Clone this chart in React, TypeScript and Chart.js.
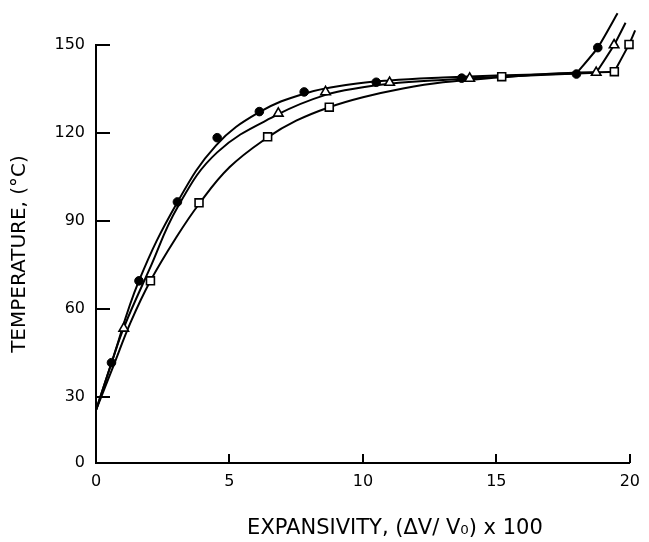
import React, { useEffect, useRef } from 'react';
import { Chart, registerables, LinearScale } from 'chart.js';

// ---- axes ----
const xTickValues = [0, 5, 10, 15, 20];
const yTickValues = [0, 30, 60, 90, 120, 150];
const yTitle = 'TEMPERATURE, (°C)';
const xTitle = 'EXPANSIVITY, (ΔV/ V₀) x 100';

// ---- measured points ----
const circleX = [0.58, 1.61, 3.05, 4.54, 6.12, 7.8, 10.5, 13.7, 18.0, 18.8, 19.54];
const circleY = [41.7, 69.6, 96.5, 118.4, 127.3, 134.0, 137.3, 138.7, 140.1, 149.1, 160.8];
const triangleX = [1.04, 6.83, 8.6, 11.0, 14.0, 18.74, 19.41, 19.75];
const triangleY = [53.4, 126.7, 134.0, 137.2, 138.6, 140.6, 150.0, 156.5];
const squareX = [2.04, 3.86, 6.43, 8.74, 15.2, 19.42, 19.97];
const squareY = [69.6, 96.2, 118.7, 128.8, 139.2, 140.9, 150.2];

// ---- fitted curves ----
const circleCurveX = [0, 0.58, 1.6, 3.05, 4.5, 6.1, 7.8, 9.5, 11, 13, 15, 18.0];
const circleCurveY = [24, 41.6, 69.4, 96.4, 115.8, 127.0, 133.4, 136.5, 137.9, 138.9, 139.6, 140.3];
const circleBranchX = [18.0, 18.8, 19.54];
const circleBranchY = [140.3, 149.1, 160.8];

const triangleCurveX = [0, 0.58, 1.04, 2, 3.05, 4.54, 6.83, 8.6, 10, 11, 13, 15, 18.74];
const triangleCurveY = [24, 41.6, 53.6, 73.5, 94.6, 113.4, 126.4, 133.0, 135.6, 136.8, 138.1, 139.1, 140.5];
const triangleBranchX = [18.74, 19.41, 19.84];
const triangleBranchY = [140.5, 150.0, 157.6];

const squareCurveX = [0, 0.65, 1.3, 2.04, 3, 3.86, 5, 6.43, 7.5, 8.74, 10, 11.5, 13, 15.2, 17, 19.42];
const squareCurveY = [24, 40.5, 55.5, 69.6, 84.3, 95.8, 108.3, 118.5, 124.2, 128.8, 132.2, 135.2, 137.3, 139.0, 140.2, 140.9];
const squareBranchX = [19.42, 19.97, 20.2];
const squareBranchY = [140.9, 150.2, 155.0];

// the original temperature axis is compressed below 30 °C
const Y_BREAK = 30;
const LOWER_SHARE = 66 / 418;

class BrokenLinearScale extends LinearScale {
  static id = 'brokenLinear';
  toDecimal(v: number) {
    const min = (this as any).min;
    const max = (this as any).max;
    if (v <= Y_BREAK) return ((v - min) / (Y_BREAK - min)) * LOWER_SHARE;
    return LOWER_SHARE + ((v - Y_BREAK) / (max - Y_BREAK)) * (1 - LOWER_SHARE);
  }
  getPixelForValue(value: any) {
    if (value === null || value === undefined || isNaN(value)) return NaN;
    return (this as any).getPixelForDecimal(this.toDecimal(+value));
  }
  getValueForPixel(pixel: number) {
    const d = (this as any).getDecimalForPixel(pixel);
    const min = (this as any).min;
    const max = (this as any).max;
    if (d <= LOWER_SHARE) return min + (d / LOWER_SHARE) * (Y_BREAK - min);
    return Y_BREAK + ((d - LOWER_SHARE) / (1 - LOWER_SHARE)) * (max - Y_BREAK);
  }
}

Chart.register(...registerables, BrokenLinearScale);

const FONT = 'DejaVu Sans';

const pts = (xs: number[], ys: number[]) => xs.map((x, i) => ({ x, y: ys[i] }));

const tickMarks = {
  id: 'inwardTicks',
  afterDatasetsDraw(chart: any) {
    const { ctx, chartArea, scales } = chart;
    ctx.save();
    ctx.strokeStyle = '#000';
    ctx.lineWidth = 2;
    ctx.beginPath();
    scales.y.ticks.forEach((t: any) => {
      const py = Math.round(scales.y.getPixelForValue(t.value));
      ctx.moveTo(chartArea.left, py);
      ctx.lineTo(chartArea.left + 14, py);
    });
    scales.x.ticks.forEach((t: any) => {
      const px = Math.round(scales.x.getPixelForValue(t.value));
      ctx.moveTo(px, chartArea.bottom);
      ctx.lineTo(px, chartArea.bottom - 9);
    });
    ctx.stroke();
    ctx.restore();
  },
};

const xTitlePlugin = {
  id: 'xTitle',
  afterDraw(chart: any) {
    const { ctx, chartArea } = chart;
    ctx.save();
    ctx.font = `21px "${FONT}"`;
    ctx.fillStyle = '#000';
    ctx.textAlign = 'center';
    ctx.textBaseline = 'middle';
    ctx.fillText(xTitle, chartArea.left + chartArea.width * 0.56, chart.height - 13);
    ctx.restore();
  },
};

export default function App() {
  const ref = useRef<HTMLCanvasElement>(null);
  useEffect(() => {
    if (!ref.current) return;
    const markerBase = { showLine: false, clip: false as any, pointBorderColor: '#000' };
    const curveBase = {
      showLine: true,
      pointRadius: 0,
      borderColor: '#000',
      borderWidth: 2,
      tension: 0.4,
      fill: false,
      clip: false as any,
    };
    const chart = new Chart(ref.current, {
      type: 'line',
      data: {
        datasets: [
          { ...markerBase, data: pts(circleX, circleY), pointStyle: 'circle', pointRadius: 4.3, pointBackgroundColor: '#000', pointBorderWidth: 1 },
          { ...markerBase, data: pts(triangleX, triangleY), pointStyle: 'triangle', pointRadius: 5.5, pointBackgroundColor: '#fff', pointBorderWidth: 1.6 },
          { ...markerBase, data: pts(squareX, squareY), pointStyle: 'rect', pointRadius: 5.6, pointBackgroundColor: '#fff', pointBorderWidth: 1.6 },
          { ...curveBase, data: pts(circleCurveX, circleCurveY) },
          { ...curveBase, data: pts(circleBranchX, circleBranchY), tension: 0.2 },
          { ...curveBase, data: pts(triangleCurveX, triangleCurveY) },
          { ...curveBase, data: pts(triangleBranchX, triangleBranchY), tension: 0.2 },
          { ...curveBase, data: pts(squareCurveX, squareCurveY) },
          { ...curveBase, data: pts(squareBranchX, squareBranchY), tension: 0.2 },
        ] as any,
      },
      options: {
        responsive: false,
        animation: false,
        layout: { padding: { left: 0, top: 45, right: 14, bottom: 0 } },
        plugins: { legend: { display: false }, tooltip: { enabled: false } },
        scales: {
          x: {
            type: 'linear',
            min: 0,
            max: 20,
            grid: { display: false, drawTicks: false },
            border: { display: true, color: '#000', width: 2 },
            ticks: { color: '#000', font: { family: FONT, size: 16 }, padding: 9, maxRotation: 0 },
            afterBuildTicks: (s: any) => { s.ticks = xTickValues.map((v) => ({ value: v })); },
            afterFit: (s: any) => { s.height = 79; },
          },
          y: {
            type: 'brokenLinear' as any,
            min: 0,
            max: 150,
            grid: { display: false, drawTicks: false },
            border: { display: true, color: '#000', width: 2 },
            ticks: { color: '#000', font: { family: FONT, size: 16 }, padding: 11 },
            title: { display: true, text: yTitle, color: '#000', font: { family: FONT, size: 20 }, padding: { top: 8, bottom: 0 } },
            afterBuildTicks: (s: any) => { s.ticks = yTickValues.map((v) => ({ value: v })); },
            afterFit: (s: any) => { s.width = 96; },
          } as any,
        },
      },
      plugins: [tickMarks, xTitlePlugin],
    });
    return () => chart.destroy();
  }, []);
  return (
    <div style={{ position: 'fixed', left: 0, top: 0, width: 649, height: 542, background: '#fff' }}>
      <canvas ref={ref} width={649} height={542} style={{ display: 'block' }} />
    </div>
  );
}
